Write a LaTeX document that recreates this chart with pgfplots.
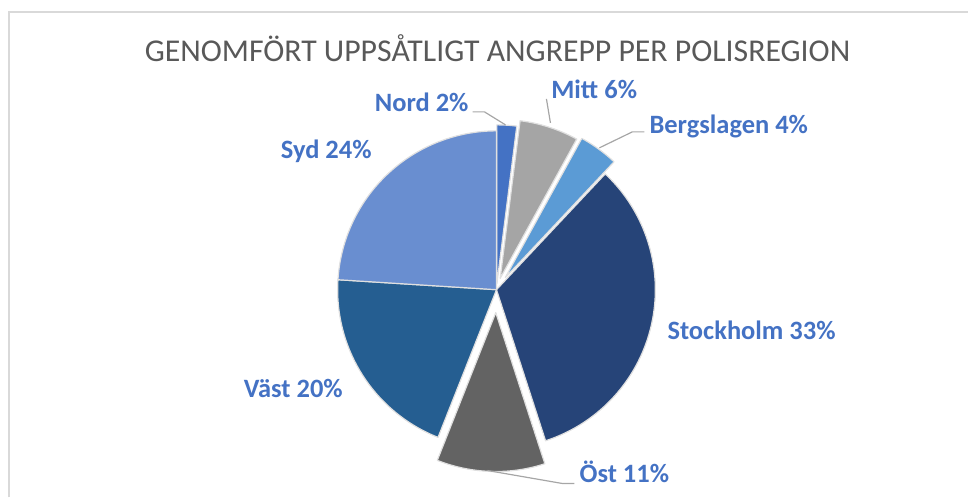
\documentclass[border=0pt]{standalone}
\usepackage{pgfplots}
\pgfplotsset{compat=1.18}
\usepackage{fontspec}
\setmainfont{Carlito}
\definecolor{cNord}{HTML}{4472C4}
\definecolor{cMitt}{HTML}{A5A5A5}
\definecolor{cBerg}{HTML}{5B9BD5}
\definecolor{cSthlm}{HTML}{264478}
\definecolor{cOst}{HTML}{636363}
\definecolor{cVast}{HTML}{255E91}
\definecolor{cSyd}{HTML}{698ED0}
\definecolor{lbl}{HTML}{4472C4}
\definecolor{ttl}{HTML}{595959}
\definecolor{frame}{HTML}{D9D9D9}
\definecolor{lead}{HTML}{A6A6A6}
% data: share in percent, explosion (px)
% Nord 2, Mitt 6, Bergslagen 4, Stockholm 33, Ost 11, Vast 20, Syd 24
\def\cum{0}
\newcommand\pieslice[3]{% pct, explode, color
  \pgfmathsetmacro\sa{\cum*3.6}%
  \pgfmathsetmacro\sb{(\cum+#1)*3.6}%
  \pgfmathsetmacro\sm{(\sa+\sb)/2}%
  \pgfmathsetmacro\scx{497+#2*sin(\sm)}%
  \pgfmathsetmacro\scy{290-#2*cos(\sm)}%
  \edef\tmp{\noexpand\addplot[fill=#3, draw=white!88!black, line width=1.2pt, line join=round, domain=\sa:\sb, samples=80, variable=\noexpand\t] ({\scx+159*sin(\noexpand\t)},{\scy-159*cos(\noexpand\t)}) -- (axis cs:\scx,\scy) -- cycle;}%
  \tmp
  \pgfmathsetmacro\newcum{\cum+#1}%
  \global\let\cum\newcum}
\begin{document}
\begin{tikzpicture}
\begin{axis}[
  scale only axis, width=969bp, height=498bp,
  xmin=0, xmax=969, ymin=0, ymax=498, y dir=reverse,
  hide axis, clip=false]
\addplot[draw=none] coordinates {(0,0) (969,498)};
% chart frame
\addplot[frame, line width=2bp] coordinates {(9.5,498) (9.5,12) (969,12)};
% slices
\pieslice{2}{6}{cNord}
\pieslice{6}{12}{cMitt}
\pieslice{4}{15}{cBerg}
\pieslice{33}{0}{cSthlm}
\pieslice{11}{23}{cOst}
\pieslice{20}{0}{cVast}
\pieslice{24}{0}{cSyd}
% leader lines
\addplot[lead, line width=1.2pt] coordinates {(473,112) (485,112) (506,125)};
\addplot[lead, line width=1.2pt] coordinates {(547,99) (551,123)};
\addplot[lead, line width=1.2pt] coordinates {(645,132) (633,132) (600,148)};
\addplot[lead, line width=1.2pt] coordinates {(488,471) (563,484) (575,484)};
% title
\node[anchor=base, text=ttl, font=\fontsize{31.8bp}{36bp}\selectfont, inner sep=0pt] at (axis cs:498,62) {GENOMFÖRT UPPSÅTLIGT ANGREPP PER POLISREGION};
% labels
\tikzset{lab/.style={anchor=base west, text=lbl, font=\fontsize{26.5bp}{30bp}\selectfont\bfseries, inner sep=0pt}}
\node[lab] at (axis cs:375,111.7) {Nord 2\%};
\node[lab] at (axis cs:551.7,98.3) {Mitt 6\%};
\node[lab] at (axis cs:650,133.3) {Bergslagen 4\%};
\node[lab] at (axis cs:281,159) {Syd 24\%};
\node[lab] at (axis cs:668,340) {Stockholm 33\%};
\node[lab] at (axis cs:244,398) {Väst 20\%};
\node[lab] at (axis cs:580,483) {Öst 11\%};
\end{axis}
\end{tikzpicture}
\end{document}
